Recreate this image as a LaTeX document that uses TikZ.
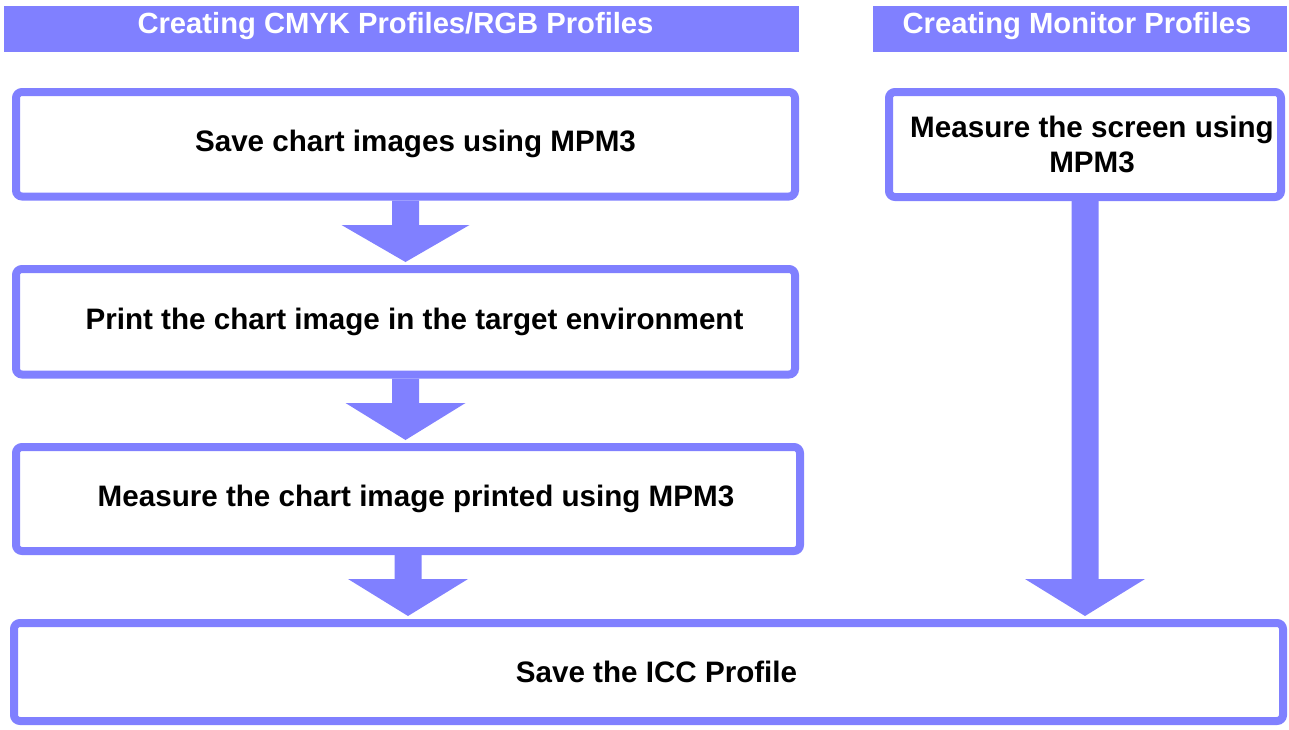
\documentclass[tikz,border=0pt]{standalone}
\usepackage{fontspec}
\setmainfont{Liberation Sans}
\usetikzlibrary{calc}
\definecolor{flowblue}{HTML}{8080FF}
\tikzset{
  header/.style={fill=flowblue, draw=none, text=white, font=\bfseries\fontsize{29.2}{34}\selectfont, inner sep=0pt, text height=21pt, text depth=13pt},
  stepbox/.style={draw=flowblue, line width=8pt, rounded corners=6pt, fill=white, font=\bfseries\fontsize{29.6}{35}\selectfont, align=center, inner sep=0pt},
}
\newcommand\fatarrow[4]{% from node, to node, shaft x-node, head half width
  \fill[flowblue] let \p1=(#1.south), \p2=(#2.north), \p3=(#3.south) in
    (\x3-13.5pt,\y1) -- (\x3-13.5pt,\y2+40pt) -- (\x3-#4,\y2+40pt) -- (\x3,\y2+3pt)
    -- (\x3+#4,\y2+40pt) -- (\x3+13.5pt,\y2+40pt) -- (\x3+13.5pt,\y1) -- cycle;}
\begin{document}
\begin{tikzpicture}[x=1pt,y=-1pt]
\useasboundingbox (0,0) rectangle (1289,729);
% headers
\node[header, minimum width=795pt, minimum height=46pt] (h1) at (401.5,29) {Creating CMYK Profiles/RGB Profiles\hspace*{12pt}};
\node[header, minimum width=414pt, minimum height=46pt] (h2) at (1080,29) {Creating Monitor Profiles\hspace*{6pt}};
% boxes
\node[stepbox, minimum width=779pt, minimum height=104.5pt] (b1) at (405.5,144.25) {\hspace*{20pt}Save chart images using MPM3};
\node[stepbox, minimum width=779pt, minimum height=105.5pt] (b2) at (405.5,321.75) {\hspace*{18pt}Print the chart image in the target environment};
\node[stepbox, minimum width=784pt, minimum height=104pt] (b3) at (408,499) {\hspace*{16pt}Measure the chart image printed using MPM3};
\node[stepbox, minimum width=392pt, minimum height=105pt] (b4) at (1085,144.5) {\hspace*{14pt}Measure the screen using\\\hspace*{14pt}MPM3};
\node[stepbox, minimum width=1269pt, minimum height=98pt] (b5) at (648.5,672) {\hspace*{16pt}Save the ICC Profile};
% arrows
\fatarrow{b1}{b2}{b1}{64pt}
\fatarrow{b2}{b3}{b2}{60pt}
\fatarrow{b3}{b5}{b3}{60pt}
\fatarrow{b4}{b5}{b4}{60pt}
\end{tikzpicture}
\end{document}
